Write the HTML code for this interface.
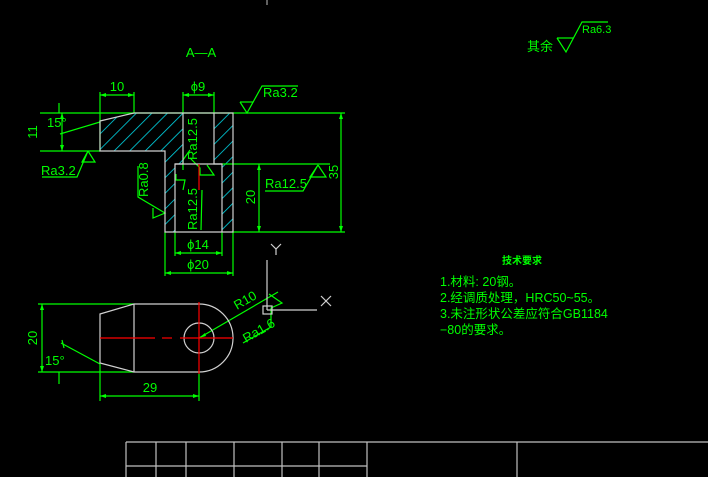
<!DOCTYPE html>
<html><head><meta charset="utf-8"><style>
html,body{margin:0;padding:0;background:#000;width:708px;height:477px;overflow:hidden}
svg{display:block}
text{font-family:"Liberation Sans","Noto Sans CJK SC",sans-serif;fill:#00ff00}
</style></head><body>
<svg width="708" height="477" viewBox="0 0 708 477" xmlns="http://www.w3.org/2000/svg">
<defs>
<pattern id="h" patternUnits="userSpaceOnUse" width="11" height="11" patternTransform="rotate(45)">
<line x1="0" y1="0" x2="0" y2="11" stroke="#00d8e8" stroke-width="1.6"/>
</pattern>
</defs>
<line x1="267" y1="0" x2="267" y2="5" stroke="#c0c0c0"/>
<text x="201" y="57" font-size="13" text-anchor="middle">A—A</text>

<path fill-rule="evenodd" fill="url(#h)" d="M100,121 L134,113 L233,113 L233,232 L165,232 L165,151 L100,151 Z M183,113 L214,113 L214,164 L222,164 L222,232 L175,232 L175,164 L183,164 Z"/>
<g stroke="#00ff00" fill="none" stroke-width="1.2">
<line x1="40" y1="113" x2="345" y2="113"/>
<line x1="40" y1="151" x2="100" y2="151"/>
<line x1="233" y1="232" x2="345" y2="232"/>
<line x1="222" y1="164" x2="330" y2="164"/>
<line x1="100" y1="92" x2="100" y2="151"/>
<line x1="134" y1="92" x2="134" y2="113"/>
<line x1="100" y1="95" x2="134" y2="95"/>
<line x1="183" y1="92" x2="183" y2="113"/>
<line x1="214" y1="92" x2="214" y2="113"/>
<line x1="183" y1="95" x2="214" y2="95"/>
<line x1="62" y1="113" x2="62" y2="151"/>
<line x1="59" y1="103" x2="59" y2="113"/>
<line x1="60" y1="134" x2="100" y2="122"/>
<line x1="341" y1="113" x2="341" y2="232"/>
<line x1="259" y1="164" x2="259" y2="232"/>
<line x1="165" y1="232" x2="165" y2="276"/>
<line x1="233" y1="232" x2="233" y2="276"/>
<line x1="175" y1="232" x2="175" y2="256"/>
<line x1="222" y1="232" x2="222" y2="256"/>
<line x1="175" y1="253" x2="222" y2="253"/>
<line x1="165" y1="273" x2="233" y2="273"/>
<polyline points="240,102 247,113 262,86 298,86"/><line x1="240" y1="102" x2="253" y2="102"/>
<polyline points="42,177 77,177 88,151 82,162 95,162 88,151"/>
<polyline points="265,191 303,191 318,165 310,177 326,177 318,165"/>
<polyline points="138,166 138,197 165,213 153,218 153,208"/>
<polyline points="190,150 183,160 183,170"/>
<polyline points="190,158 200,168 200,175 214,175 207,165"/>
<polyline points="176,174 176,180 185,180 183,190"/>
<polyline points="202,190 201,230"/>
<line x1="38" y1="304" x2="134" y2="304"/>
<line x1="38" y1="372" x2="134" y2="372"/>
<line x1="42" y1="304" x2="42" y2="372"/>
<line x1="61" y1="343" x2="100" y2="364"/>
<line x1="62" y1="340" x2="64" y2="348"/>
<line x1="59" y1="372" x2="59" y2="384"/>
<line x1="100" y1="364" x2="100" y2="401"/>
<line x1="199" y1="372" x2="199" y2="401"/>
<line x1="100" y1="396" x2="199" y2="396"/>
<line x1="199" y1="338" x2="278" y2="292"/>
<polyline points="243,343 271,327 271,308 282,303 269,294"/>
</g>
<g fill="#00ff00">
<path d="M100,95 l6,-2 v4z M134,95 l-6,-2 v4z M183,95 l6,-2 v4z M214,95 l-6,-2 v4z"/>
<path d="M62,113 l-2,6 h4z M62,151 l-2,-6 h4z M341,113 l-2,6 h4z M341,232 l-2,-6 h4z M259,164 l-2,6 h4z M259,232 l-2,-6 h4z"/>
<path d="M175,253 l6,-2 v4z M222,253 l-6,-2 v4z M165,273 l6,-2 v4z M233,273 l-6,-2 v4z"/>
<path d="M42,304 l-2,6 h4z M42,372 l-2,-6 h4z M100,396 l6,-2 v4z M199,396 l-6,-2 v4z M199,338 l6,-5 l1,3z"/>
</g>
<g stroke="#d0d0d0" fill="none" stroke-width="1.2">
<polygon points="100,121 134,113 233,113 233,232 165,232 165,151 100,151"/>
<polyline points="183,113 183,164 175,164 175,232"/>
<polyline points="214,113 214,164 222,164 222,232"/>
<line x1="175" y1="164" x2="222" y2="164"/>
<polyline points="134,304 199,304"/>
<polyline points="134,372 199,372"/>
<path d="M199,304 A34,34 0 0 1 199,372"/>
<line x1="134" y1="304" x2="134" y2="372"/>
<polyline points="134,304 100,314 100,363 134,372"/>
<circle cx="199" cy="338" r="15"/>
<line x1="267" y1="260" x2="267" y2="310"/>
<line x1="267" y1="310" x2="317" y2="310"/>
<rect x="263" y="306" width="9" height="8"/>
<polyline points="321,296 331,306"/><polyline points="331,296 321,306"/>
<polyline points="271,244 276,249 281,244"/><line x1="276" y1="249" x2="276" y2="255"/>
</g>
<g stroke="#ff0000" stroke-width="1.2">
<line x1="199" y1="164" x2="199" y2="190"/>
<line x1="100" y1="338" x2="155" y2="338"/>
<line x1="162" y1="338" x2="172" y2="338"/>
<line x1="180" y1="338" x2="233" y2="338"/>
<line x1="199" y1="302" x2="199" y2="374"/>
</g>
<g font-size="13">
<text x="117" y="91" text-anchor="middle">10</text>
<text x="198" y="91" text-anchor="middle">ϕ9</text>
<text x="263" y="97">Ra3.2</text>
<text x="47" y="127">15°</text>
<text x="41" y="175">Ra3.2</text>
<text x="265" y="188">Ra12.5</text>
<text x="198" y="249" text-anchor="middle">ϕ14</text>
<text x="198" y="269" text-anchor="middle">ϕ20</text>
<text transform="translate(37,132) rotate(-90)" text-anchor="middle">11</text>
<text transform="translate(338,172) rotate(-90)" text-anchor="middle">35</text>
<text transform="translate(255,197) rotate(-90)" text-anchor="middle">20</text>
<text transform="translate(148,197) rotate(-90)">Ra0.8</text>
<text transform="translate(197,160) rotate(-90)">Ra12.5</text>
<text transform="translate(197,230) rotate(-90)">Ra12.5</text>
<text transform="translate(37,338) rotate(-90)" text-anchor="middle">20</text>
<text x="45" y="365">15°</text>
<text x="150" y="392" text-anchor="middle">29</text>
<text transform="translate(237,310) rotate(-30)">R10</text>
<text transform="translate(246,343) rotate(-30)">Ra1.6</text>
</g>
<text x="527" y="51" font-size="13">其余</text>
<polyline points="557,38 566,52 582,22 608,22" stroke="#00ff00" fill="none" stroke-width="1.2"/>
<line x1="557" y1="38" x2="573" y2="38" stroke="#00ff00" stroke-width="1.2"/>
<text x="582" y="33" font-size="11">Ra6.3</text>
<text x="502" y="264" font-size="10" font-weight="bold">技术要求</text>
<g font-size="12.5">
<text x="440" y="286">1.材料: 20钢。</text>
<text x="440" y="302">2.经调质处理，HRC50~55。</text>
<text x="440" y="318">3.未注形状公差应符合GB1184</text>
<text x="440" y="334">−80的要求。</text>
</g>
<g stroke="#c0c0c0" stroke-width="1.2" fill="none">
<line x1="126" y1="442" x2="708" y2="442"/>
<line x1="126" y1="466" x2="367" y2="466"/>
<line x1="126" y1="442" x2="126" y2="477"/>
<line x1="156" y1="442" x2="156" y2="477"/>
<line x1="186" y1="442" x2="186" y2="477"/>
<line x1="234" y1="442" x2="234" y2="477"/>
<line x1="282" y1="442" x2="282" y2="477"/>
<line x1="319" y1="442" x2="319" y2="477"/>
<line x1="367" y1="442" x2="367" y2="477"/>
<line x1="517" y1="442" x2="517" y2="477"/>
</g>
</svg>
</body></html>
